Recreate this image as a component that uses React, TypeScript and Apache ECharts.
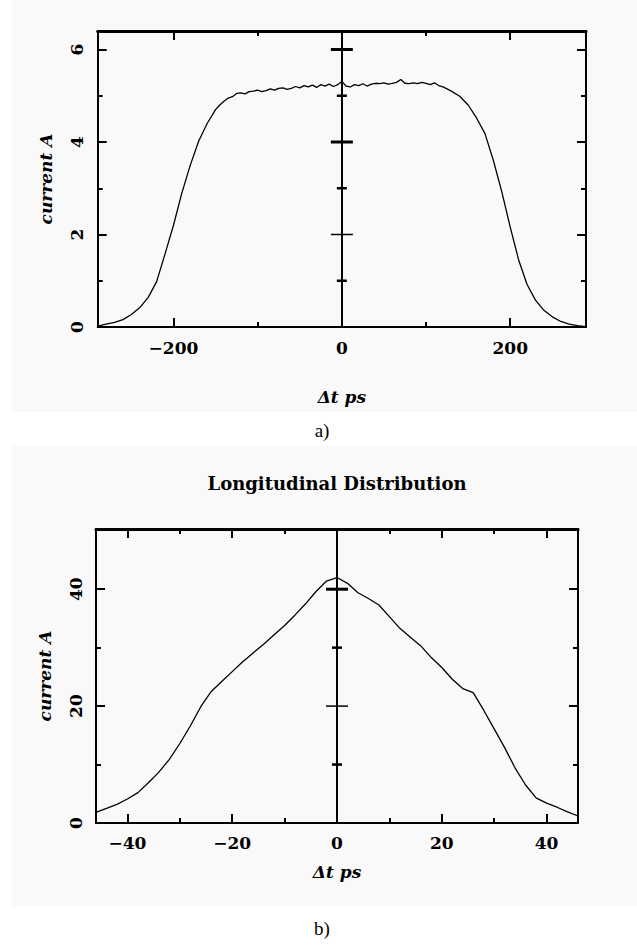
import React, { useEffect, useRef } from "react";
import * as echarts from "echarts";

// Panel a) — flat-top pulse
const timeA = [
  -290, -280, -270, -260, -250, -240, -230, -220, -210, -200, -190, -180, -170, -160,
  -150, -145, -140, -135, -130, -125, -120, -115, -110, -105, -100, -95, -90, -85, -80,
  -75, -70, -65, -60, -55, -50, -45, -40, -35, -30, -25, -20, -15, -10, -5, 0,
  5, 10, 15, 20, 25, 30, 35, 40, 45, 50, 55, 60, 65, 70, 75, 80, 85, 90, 95, 100,
  105, 110, 115, 120, 125, 130,
  140, 150, 160, 170, 180, 190, 200, 210, 220, 230, 240, 250, 260, 270, 280, 290,
];
const currentA = [
  0.02, 0.06, 0.1, 0.16, 0.27, 0.42, 0.64, 0.98, 1.58, 2.2, 2.9, 3.5, 4.02, 4.4,
  4.7, 4.8, 4.88, 4.95, 4.98, 5.05, 5.06, 5.04, 5.09, 5.1, 5.12, 5.09, 5.11, 5.15, 5.12,
  5.16, 5.17, 5.14, 5.16, 5.2, 5.17, 5.22, 5.19, 5.23, 5.18, 5.24, 5.21, 5.25, 5.2, 5.24, 5.31,
  5.21, 5.19, 5.24, 5.22, 5.26, 5.21, 5.25, 5.27, 5.26, 5.28, 5.25, 5.27, 5.29, 5.35, 5.27, 5.26, 5.28, 5.26, 5.29, 5.27,
  5.24, 5.28, 5.22, 5.19, 5.15, 5.1,
  4.99, 4.8, 4.52, 4.18, 3.6, 2.92, 2.16, 1.45, 0.92, 0.58, 0.36, 0.22, 0.12, 0.06, 0.03, 0.01,
];

// Panel b) — longitudinal distribution
const timeB = [
  -46, -44, -42, -40, -38, -36, -34, -32, -30, -28, -26, -24, -22, -20, -18, -16, -14, -12,
  -10, -8, -6, -4, -2, 0, 2, 4, 6, 8, 10, 12, 14, 16, 18, 20, 22, 24, 26, 28, 30, 32, 34,
  36, 38, 40, 42, 44, 46,
];
const currentB = [
  1.8, 2.5, 3.2, 4.1, 5.2, 6.9, 8.7, 10.9, 13.6, 16.6, 19.9, 22.5, 24.2, 25.9, 27.6, 29.1, 30.6, 32.2,
  33.8, 35.6, 37.5, 39.6, 41.4, 42.0, 41.0, 39.4, 38.4, 37.3, 35.3, 33.3, 31.8, 30.3, 28.3, 26.6, 24.6, 23.0, 22.3, 19.3, 16.1, 12.9, 9.4,
  6.5, 4.3, 3.4, 2.7, 1.9, 1.2,
];

// Axis ticks / labels
const xLabelsA = [-200, 0, 200];
const xMajorA = [-200, 200];
const xMinorA = [-100, 100];
const yLabelsA = [0, 2, 4, 6];
const yMajorA = [2, 4, 6];
const yMinorA = [1, 3, 5];

const xLabelsB = [-40, -20, 0, 20, 40];
const xMajorB = [-40, -20, 20, 40];
const xMinorB = [-30, -10, 10, 30];
const yLabelsB = [0, 20, 40];
const yMajorB = [20, 40];
const yMinorB = [10, 30];

const titleB = "Longitudinal Distribution";
const xName = "Δt ps";
const yName = "current A";

const FONT = "DejaVu Serif";
const BG = "#f9f9f9";

function fmt(v: number) {
  return v < 0 ? "\u2212" + Math.abs(v) : String(v);
}

function tickAxis(
  grid: number,
  position: string,
  min: number,
  max: number,
  ticks: number[],
  length: number,
  tickWidth: number,
  showLine: boolean,
  lineW: number
): any {
  return {
    type: "value",
    gridIndex: grid,
    position,
    min,
    max,
    axisLine: { show: showLine, onZero: false, lineStyle: { color: "#000", width: lineW } },
    axisTick: {
      show: true,
      inside: true,
      length,
      customValues: ticks,
      lineStyle: { color: "#000", width: tickWidth },
    },
    axisLabel: { show: false },
    splitLine: { show: false },
  };
}

export default function App() {
  const ref = useRef<HTMLDivElement>(null);

  useEffect(() => {
    if (!ref.current) return;
    const chart = echarts.init(ref.current, undefined, { renderer: "svg" });

    const labelStyle = {
      fontFamily: FONT,
      fontWeight: "bold" as const,
      fontSize: 17,
      color: "#000",
    };
    const nameStyle = {
      fontFamily: FONT,
      fontWeight: "bold" as const,
      fontStyle: "italic" as const,
      fontSize: 17,
      color: "#000",
    };

    const xMainA = {
      ...tickAxis(0, "bottom", -290, 290, xMajorA, 9, 2, true, 2),
      axisLabel: { show: true, customValues: xLabelsA, margin: 12, formatter: fmt, ...labelStyle },
      name: xName,
      nameLocation: "middle",
      nameGap: 61,
      nameTextStyle: nameStyle,
    };
    const yMainA = {
      ...tickAxis(0, "left", 0, 6.4, yMajorA, 9, 2, true, 2),
      axisLabel: { show: true, customValues: yLabelsA, rotate: 90, margin: 12, formatter: fmt, ...labelStyle },
      name: yName,
      nameLocation: "middle",
      nameGap: 43,
      nameTextStyle: nameStyle,
    };
    const xMainB = {
      ...tickAxis(1, "bottom", -46, 46, xMajorB, 9, 2, true, 2),
      axisLabel: { show: true, customValues: xLabelsB, margin: 11, formatter: fmt, ...labelStyle },
      name: xName,
      nameLocation: "middle",
      nameGap: 40,
      nameTextStyle: nameStyle,
    };
    const yMainB = {
      ...tickAxis(1, "left", 0, 50.3, yMajorB, 9, 2, true, 2),
      axisLabel: { show: true, customValues: yLabelsB, rotate: 90, margin: 12, formatter: fmt, ...labelStyle },
      name: yName,
      nameLocation: "middle",
      nameGap: 43,
      nameTextStyle: nameStyle,
    };

    const crossTicks = (major: number[], minor: number[]) => [
      ...major.map((v, i) => ({ value: [0, v], symbolSize: [22, i === 0 ? 1.5 : 3] })),
      ...minor.map((v) => ({ value: [0, v], symbolSize: [10, 2.5] })),
    ];

    const option: any = {
      animation: false,
      backgroundColor: "#ffffff",
      grid: [
        { left: 97.7, top: 31, width: 488.3, height: 296, containLabel: false },
        { left: 96, top: 529, width: 482, height: 294, containLabel: false },
      ],
      xAxis: [
        xMainA,
        tickAxis(0, "bottom", -290, 290, xMinorA, 5, 2, false, 2),
        tickAxis(0, "top", -290, 290, xMajorA, 9, 2, true, 3),
        tickAxis(0, "top", -290, 290, xMinorA, 5, 2, false, 2),
        xMainB,
        tickAxis(1, "bottom", -46, 46, xMinorB, 5, 2, false, 2),
        tickAxis(1, "top", -46, 46, xMajorB, 9, 2, true, 3),
        tickAxis(1, "top", -46, 46, xMinorB, 5, 2, false, 2),
      ],
      yAxis: [
        yMainA,
        tickAxis(0, "left", 0, 6.4, yMinorA, 5, 2, false, 2),
        tickAxis(0, "right", 0, 6.4, yMajorA, 9, 2, true, 2),
        tickAxis(0, "right", 0, 6.4, yMinorA, 5, 2, false, 2),
        yMainB,
        tickAxis(1, "left", 0, 50.3, yMinorB, 5, 2, false, 2),
        tickAxis(1, "right", 0, 50.3, yMajorB, 9, 2, true, 2),
        tickAxis(1, "right", 0, 50.3, yMinorB, 5, 2, false, 2),
      ],
      graphic: [
        { type: "rect", z: -100, silent: true, shape: { x: 12, y: 0, width: 625, height: 412 }, style: { fill: BG } },
        { type: "rect", z: -100, silent: true, shape: { x: 12, y: 446, width: 625, height: 460 }, style: { fill: BG } },
        {
          type: "text",
          x: 337,
          y: 483,
          style: {
            text: titleB,
            fontFamily: FONT,
            fontWeight: "bold",
            fontSize: 18,
            fill: "#000",
            textAlign: "center",
            textVerticalAlign: "middle",
          },
        },
        {
          type: "text",
          x: 322,
          y: 430,
          style: {
            text: "a)",
            fontFamily: "Liberation Serif",
            fontSize: 19,
            fill: "#000",
            textAlign: "center",
            textVerticalAlign: "middle",
          },
        },
        {
          type: "text",
          x: 322,
          y: 928,
          style: {
            text: "b)",
            fontFamily: "Liberation Serif",
            fontSize: 19,
            fill: "#000",
            textAlign: "center",
            textVerticalAlign: "middle",
          },
        },
      ],
      series: [
        {
          type: "line",
          xAxisIndex: 0,
          yAxisIndex: 0,
          data: timeA.map((t, i) => [t, currentA[i]]),
          showSymbol: false,
          lineStyle: { color: "#000", width: 1.3 },
          markLine: {
            silent: true,
            symbol: ["none", "none"],
            label: { show: false },
            lineStyle: { color: "#000", width: 2, type: "solid" },
            data: [{ xAxis: 0 }],
          },
        },
        {
          type: "scatter",
          xAxisIndex: 0,
          yAxisIndex: 0,
          symbol: "rect",
          itemStyle: { color: "#000", opacity: 1 },
          data: crossTicks(yMajorA, yMinorA),
          silent: true,
        },
        {
          type: "line",
          xAxisIndex: 4,
          yAxisIndex: 4,
          data: timeB.map((t, i) => [t, currentB[i]]),
          showSymbol: false,
          lineStyle: { color: "#000", width: 1.3 },
          markLine: {
            silent: true,
            symbol: ["none", "none"],
            label: { show: false },
            lineStyle: { color: "#000", width: 2, type: "solid" },
            data: [{ xAxis: 0 }],
          },
        },
        {
          type: "scatter",
          xAxisIndex: 4,
          yAxisIndex: 4,
          symbol: "rect",
          itemStyle: { color: "#000", opacity: 1 },
          data: crossTicks(yMajorB, yMinorB),
          silent: true,
        },
      ],
    };

    chart.setOption(option);
    return () => chart.dispose();
  }, []);

  return (
    <div
      ref={ref}
      style={{ position: "absolute", left: 0, top: 0, width: 637, height: 952 }}
    />
  );
}
